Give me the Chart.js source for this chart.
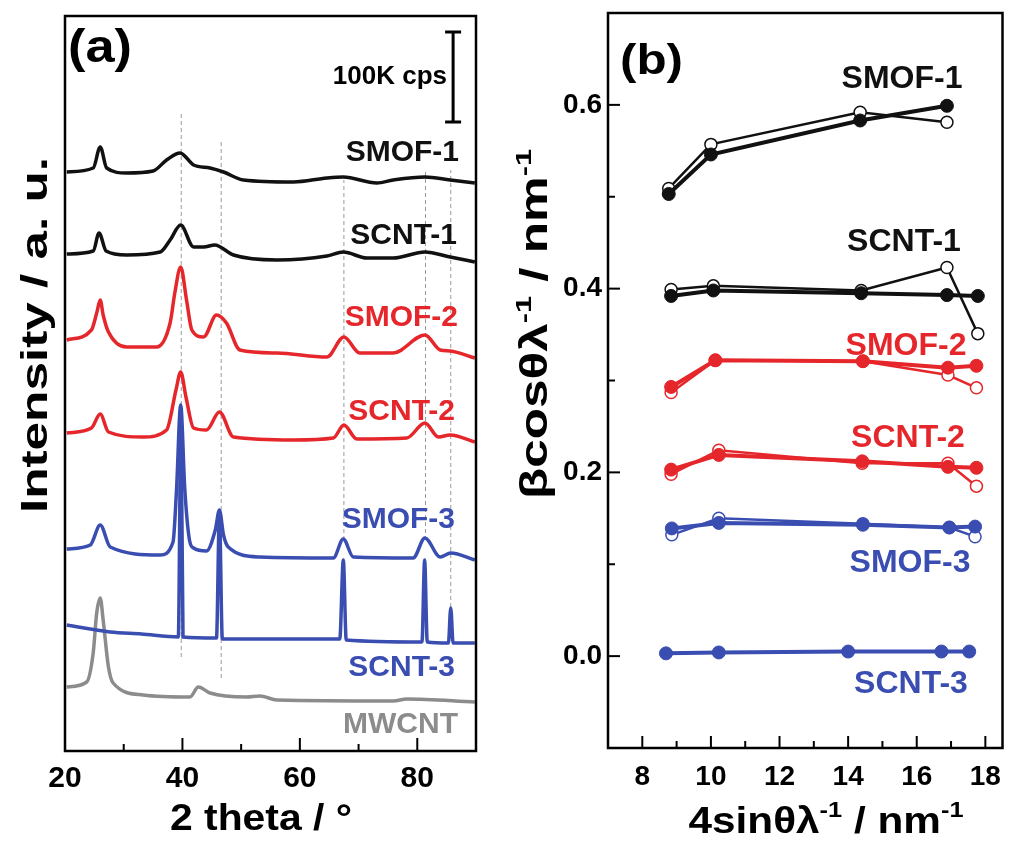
<!DOCTYPE html>
<html>
<head>
<meta charset="utf-8">
<script src="https://cdn.jsdelivr.net/npm/chart.js@4.4.1/dist/chart.umd.min.js"></script>
<style>
html, body { margin: 0; padding: 0; background: #fff; }
#wrap { position: relative; width: 1010px; height: 846px; overflow: hidden; }
#chartA { position: absolute; left: 0; top: 0; }
#chartB { position: absolute; left: 500px; top: 0; }
</style>
</head>
<body>
<div id="wrap">
  <canvas id="chartA" width="500" height="846"></canvas>
  <canvas id="chartB" width="510" height="846"></canvas>
</div>
<script>
const FONT = '"Liberation Sans", Arial, Helvetica, sans-serif';
const BLACK = "#111111";
const RED = "#e5262b";
const BLUE = "#3a4db1";
const GRAY = "#8c8c8c";

// ---- panel (a): XRD patterns, [2theta, intensity (arb. units, stacked)] ----
const smof1 = [[20.3,579],[24.8,583],[26.0,604],[27.1,583],[30.5,578],[35.0,580],[37.3,591],[39.6,598],[41.9,586],[44.7,583],[47.0,579],[50.4,571],[58.9,569],[64.6,573],[67.4,574],[73.1,568],[75.9,571],[81.3,574],[85.6,571],[89.8,568]];
const scnt1 = [[20.3,497],[24.8,500],[25.8,518],[27.0,500],[30.5,496],[36.2,499],[37.9,511],[39.7,526],[41.9,504],[43.6,504],[45.5,506],[48.7,496],[56.1,491],[64.6,495],[67.4,499],[71.4,493],[75.9,493],[81.3,499],[85.6,494],[89.8,489]];
const smof2 = [[20.3,411],[24.5,421],[25.4,438],[26.0,451],[26.5,436],[27.4,419],[30.5,404],[35.6,404],[37.9,428],[38.7,458],[39.7,484],[40.7,451],[41.6,421],[43.6,414],[45.8,436],[47.5,428],[49.8,401],[56.1,398],[64.6,394],[67.5,414],[70.2,398],[75.9,398],[81.3,416],[83.9,401],[85.6,400],[89.8,393]];
const scnt2 = [[20.3,318],[24.5,323],[26.0,337],[27.4,319],[33.3,314],[37.3,321],[38.9,361],[39.7,379],[40.6,354],[41.9,323],[44.1,321],[46.3,339],[48.7,314],[58.9,311],[65.7,313],[67.5,326],[69.7,312],[78.2,313],[81.3,328],[83.6,314],[85.6,316],[89.8,309]];
const smof3 = [[20.3,202],[24.3,206],[26.0,226],[27.7,204],[36.2,196],[38.4,209],[39.0,262],[39.7,346],[40.4,262],[41.2,211],[41.9,203],[44.1,200],[45.6,221],[46.3,241],[47.0,216],[47.8,204],[53.2,194],[65.7,193],[67.4,212],[69.1,194],[79.3,193],[81.3,213],[83.9,194],[85.7,198],[89.8,191]];
const scnt3 = [[20.3,126],[27.7,119],[33.0,117],[39.3,114],[39.75,335],[40.1,114],[45.8,113],[46.3,236],[46.8,112],[66.8,112],[67.4,191],[67.9,111],[80.8,109],[81.25,191],[81.7,109],[85.3,108],[85.7,143],[86.1,108],[89.8,108]];
const mwcnt = [[20.3,64],[23.7,69],[24.8,98],[25.4,138],[26.0,153],[26.5,131],[27.4,84],[28.2,68],[33.3,56],[41.3,54],[42.7,64],[44.7,58],[50.9,54],[53.2,55],[56.1,51],[75.9,50],[78.2,52],[89.8,49]];
const aSeries = [smof1, scnt1, smof2, scnt2, smof3, scnt3, mwcnt];
const aNames = ["SMOF-1", "SCNT-1", "SMOF-2", "SCNT-2", "SMOF-3", "SCNT-3", "MWCNT"];
const aColors = [BLACK, BLACK, RED, RED, BLUE, BLUE, GRAY];
// reference peak positions (dashed guides): [2theta, from, to]
const guideLines = [[39.8,94,639],[46.6,73,611],[67.5,211,571],[81.4,211,581],[85.7,144,581]];
// 100K cps scale bar: [2theta, low, high]
const scaleBar = [86.1, 629, 719];
const aTicks = [20, 40, 60, 80];
const aMinor = [30, 50, 70];

// ---- panel (b): filled and open symbols per sample ----
const smof1X = [8.77, 10.0, 14.35, 16.88];
const smof1Fill = [0.503, 0.546, 0.583, 0.599];
const smof1Open = [0.509, 0.557, 0.592, 0.581];
const scnt1X = [8.84, 10.07, 14.38, 16.88, 17.78];
const scnt1Fill = [0.392, 0.398, 0.395, 0.393, 0.392];
const scnt1Open = [0.399, 0.403, 0.398, 0.423, 0.351];
const smof2X = [8.84, 10.13, 14.43, 16.91, 17.74];
const smof2Fill = [0.293, 0.322, 0.321, 0.314, 0.316];
const smof2Open = [0.287, 0.322, 0.321, 0.306, 0.292];
const scnt2X = [8.84, 10.23, 14.41, 16.91, 17.74];
const scnt2Fill = [0.203, 0.219, 0.212, 0.206, 0.205];
const scnt2Open = [0.198, 0.224, 0.210, 0.210, 0.185];
const smof3X = [8.86, 10.23, 14.43, 16.95, 17.70];
const smof3Fill = [0.139, 0.145, 0.143, 0.140, 0.141];
const smof3Open = [0.132, 0.150, 0.144, 0.140, 0.130];
const scnt3X = [8.69, 10.23, 14.0, 16.72, 17.53];
const scnt3Fill = [0.003, 0.004, 0.005, 0.005, 0.005];
const bXTicks = [8, 10, 12, 14, 16, 18];
const bXMinor = [9, 11, 13, 15, 17];
const bYTicks = [0, 0.2, 0.4, 0.6];
const bYMinor = [0.1, 0.3, 0.5];

const toXY = pairs => pairs.map(p => ({ x: p[0], y: p[1] }));
const zipXY = (xs, ys) => xs.map((x, i) => ({ x: x, y: ys[i] }));

// text with superscripts, optional stretch to a target width; y is the baseline
function richText(ctx, parts, x, y, size, align, fitWidth, color) {
  const sup = size * 0.6;
  let total = 0;
  const widths = parts.map(p => {
    ctx.font = "bold " + (p[1] ? sup : size) + "px " + FONT;
    const w = ctx.measureText(p[0]).width;
    total += w;
    return w;
  });
  const sx = fitWidth ? fitWidth / total : 1;
  ctx.save();
  ctx.translate(x, y);
  ctx.scale(sx, 1);
  ctx.fillStyle = color || "#000";
  ctx.textBaseline = "alphabetic";
  ctx.textAlign = "left";
  let cx = align === "center" ? -total / 2 : align === "right" ? -total : 0;
  parts.forEach((p, i) => {
    ctx.font = "bold " + (p[1] ? sup : size) + "px " + FONT;
    ctx.fillText(p[0], cx, p[1] ? -size * 0.42 : 0);
    cx += widths[i];
  });
  ctx.restore();
}

function seg(ctx, x1, y1, x2, y2) {
  ctx.beginPath();
  ctx.moveTo(x1, y1);
  ctx.lineTo(x2, y2);
  ctx.stroke();
}

// ---------------- chart (a) ----------------
const aDatasets = aSeries.map((s, i) => ({
  data: toXY(s),
  borderColor: aColors[i],
  borderWidth: 3.5,
  pointRadius: 0,
  cubicInterpolationMode: "monotone",
  order: i === 5 ? 0 : 1
}));
guideLines.forEach(g => {
  aDatasets.push({
    data: [{ x: g[0], y: g[1] }, { x: g[0], y: g[2] }],
    borderColor: "#9a9a9a",
    borderWidth: 1,
    borderDash: [4, 3],
    pointRadius: 0,
    order: 10
  });
});
aDatasets.push({
  data: [{ x: scaleBar[0], y: scaleBar[1] }, { x: scaleBar[0], y: scaleBar[2] }],
  borderColor: "#000",
  borderWidth: 3,
  pointStyle: "line",
  pointRadius: 8,
  pointBorderWidth: 3,
  pointBorderColor: "#000",
  order: 0
});

const aLabelPos = [[459,150],[457,233],[458,315],[455,409],[455,517],[455,665],[458,722]];

const decorA = {
  id: "decorA",
  afterDraw(chart) {
    const { ctx, chartArea: a } = chart;
    const x = chart.scales.x;
    ctx.save();
    ctx.strokeStyle = "#000";
    ctx.lineWidth = 2.5;
    ctx.strokeRect(a.left, a.top, a.right - a.left, a.bottom - a.top);
    ctx.lineWidth = 2;
    aTicks.forEach(v => { const p = x.getPixelForValue(v); seg(ctx, p, a.bottom, p, a.bottom - 13); });
    aMinor.forEach(v => { const p = x.getPixelForValue(v); seg(ctx, p, a.bottom, p, a.bottom - 7); });
    aNames.forEach((n, i) => {
      richText(ctx, [[n, false]], aLabelPos[i][0], aLabelPos[i][1] + 11, 30, "right", 0, aColors[i]);
    });
    richText(ctx, [["(a)", false]], 68, 62, 47, "left", 64);
    richText(ctx, [["100K cps", false]], 447, 84, 26, "right", 0);
    richText(ctx, [["2 theta / \u00b0", false]], 261, 830, 36, "center", 182);
    ctx.save();
    ctx.translate(47, 335);
    ctx.rotate(-Math.PI / 2);
    richText(ctx, [["Intensity / a. u.", false]], 0, 0, 36, "center", 356);
    ctx.restore();
    ctx.restore();
  }
};

new Chart(document.getElementById("chartA"), {
  type: "scatter",
  data: { datasets: aDatasets },
  options: {
    responsive: false,
    animation: false,
    showLine: true,
    layout: { padding: { top: 16, right: 24, left: 0, bottom: 0 } },
    plugins: { legend: { display: false }, tooltip: { enabled: false } },
    scales: {
      x: {
        type: "linear", min: 20, max: 90,
        grid: { display: false, drawTicks: false },
        border: { display: false },
        afterBuildTicks: s => { s.ticks = aTicks.map(v => ({ value: v })); },
        ticks: { padding: 10, maxRotation: 0, color: "#000",
                 font: { family: FONT, size: 30, weight: "bold" } },
        afterFit: s => { s.height = 95; }
      },
      y: {
        type: "linear", min: 0, max: 735,
        grid: { display: false, drawTicks: false },
        border: { display: false },
        ticks: { display: false },
        afterFit: s => { s.width = 65; s.paddingTop = 0; s.paddingBottom = 0; }
      }
    }
  },
  plugins: [decorA]
});

// ---------------- chart (b) ----------------
const bGroups = [
  { x: smof1X, fill: smof1Fill, open: smof1Open, color: BLACK },
  { x: scnt1X, fill: scnt1Fill, open: scnt1Open, color: BLACK },
  { x: smof2X, fill: smof2Fill, open: smof2Open, color: RED },
  { x: scnt2X, fill: scnt2Fill, open: scnt2Open, color: RED },
  { x: smof3X, fill: smof3Fill, open: smof3Open, color: BLUE },
  { x: scnt3X, fill: scnt3Fill, open: null, color: BLUE }
];
const bNames = ["SMOF-1", "SCNT-1", "SMOF-2", "SCNT-2", "SMOF-3", "SCNT-3"];
const bLabelPos = [[402,76],[404,239],[406,343],[408,435],[410,560],[411,681]];

const bDatasets = [];
bGroups.forEach(g => {
  if (g.open) {
    bDatasets.push({
      data: zipXY(g.x, g.open),
      borderColor: g.color, borderWidth: 2.5,
      pointRadius: 6, pointBackgroundColor: "#fff",
      pointBorderColor: g.color, pointBorderWidth: 1.5,
      order: 2
    });
  }
  bDatasets.push({
    data: zipXY(g.x, g.fill),
    borderColor: g.color, borderWidth: 4,
    pointRadius: 6.5, pointBackgroundColor: g.color,
    pointBorderColor: g.color, pointBorderWidth: 1,
    order: 1
  });
});

const decorB = {
  id: "decorB",
  afterDraw(chart) {
    const { ctx, chartArea: a } = chart;
    const x = chart.scales.x, y = chart.scales.y;
    ctx.save();
    ctx.strokeStyle = "#000";
    ctx.lineWidth = 2.5;
    ctx.strokeRect(a.left, a.top, a.right - a.left, a.bottom - a.top);
    ctx.lineWidth = 2;
    bXTicks.forEach(v => { const p = x.getPixelForValue(v); seg(ctx, p, a.bottom, p, a.bottom - 12); });
    bXMinor.forEach(v => { const p = x.getPixelForValue(v); seg(ctx, p, a.bottom, p, a.bottom - 7); });
    bYTicks.forEach(v => { const p = y.getPixelForValue(v); seg(ctx, a.left, p, a.left + 12, p); });
    bYMinor.forEach(v => { const p = y.getPixelForValue(v); seg(ctx, a.left, p, a.left + 7, p); });
    bNames.forEach((n, i) => {
      richText(ctx, [[n, false]], bLabelPos[i][0], bLabelPos[i][1] + 11.5, 32, "center", 0, bGroups[i].color);
    });
    richText(ctx, [["(b)", false]], 120, 74, 42, "left", 63);
    richText(ctx, [["4sin\u03b8\u03bb", false], ["-1", true], [" / nm", false], ["-1", true]], 326, 833, 37, "center", 275);
    ctx.save();
    ctx.translate(47, 324);
    ctx.rotate(-Math.PI / 2);
    richText(ctx, [["\u03b2cos\u03b8\u03bb", false], ["-1", true], [" / nm", false], ["-1", true]], 0, 0, 38, "center", 350);
    ctx.restore();
    ctx.restore();
  }
};

new Chart(document.getElementById("chartB"), {
  type: "scatter",
  data: { datasets: bDatasets },
  options: {
    responsive: false,
    animation: false,
    showLine: true,
    layout: { padding: { top: 13, right: 7, left: 0, bottom: 0 } },
    plugins: { legend: { display: false }, tooltip: { enabled: false } },
    scales: {
      x: {
        type: "linear", min: 7, max: 18.5,
        grid: { display: false, drawTicks: false },
        border: { display: false },
        afterBuildTicks: s => { s.ticks = bXTicks.map(v => ({ value: v })); },
        ticks: { padding: 12, maxRotation: 0, color: "#000",
                 font: { family: FONT, size: 28, weight: "bold" } },
        afterFit: s => { s.height = 98; s.paddingLeft = 0; s.paddingRight = 0; }
      },
      y: {
        type: "linear", min: -0.1, max: 0.7,
        grid: { display: false, drawTicks: false },
        border: { display: false },
        afterBuildTicks: s => { s.ticks = bYTicks.map(v => ({ value: v })); },
        ticks: { padding: 6, color: "#000",
                 font: { family: FONT, size: 28, weight: "bold" },
                 callback: v => Number(v).toFixed(1) },
        afterFit: s => { s.width = 108; s.paddingTop = 0; s.paddingBottom = 0; }
      }
    }
  },
  plugins: [decorB]
});
</script>
</body>
</html>
